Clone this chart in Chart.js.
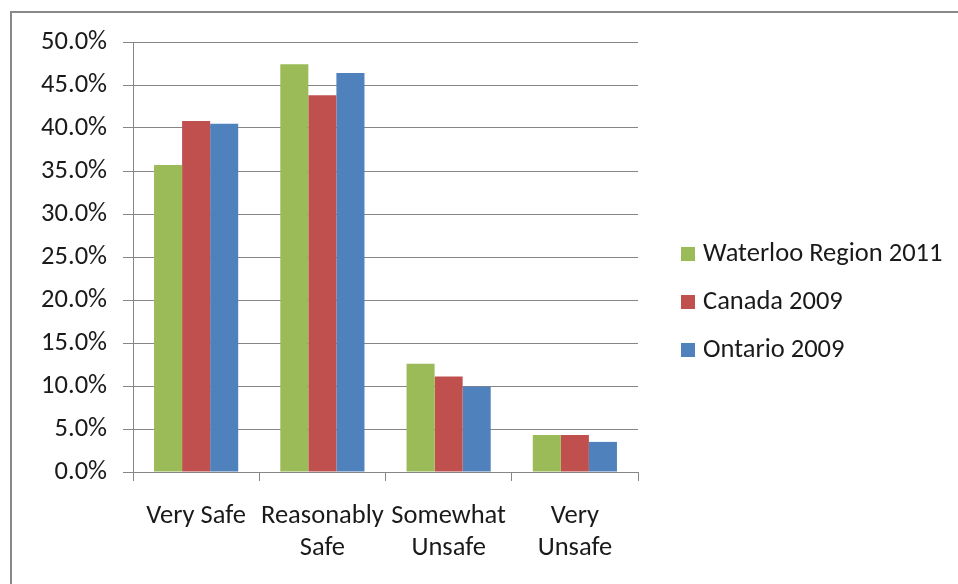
<!DOCTYPE html>
<html>
<head>
<meta charset="utf-8">
<script src="https://cdn.jsdelivr.net/npm/chart.js@4.4.1/dist/chart.umd.min.js"></script>
<style>
  html, body { margin: 0; padding: 0; background: #fff; }
  #wrap { width: 958px; height: 584px; position: relative; }
</style>
</head>
<body>
<div id="wrap"><canvas id="safetyChart" width="958" height="584"></canvas></div>
<script>
// Perceived safety walking alone after dark, share of respondents (%)
const categories = ['Very Safe', ['Reasonably', 'Safe'], ['Somewhat', 'Unsafe'], ['Very', 'Unsafe']];
const seriesNames = ['Waterloo Region 2011', 'Canada 2009', 'Ontario 2009'];
const waterloo2011 = [35.7, 47.4, 12.6, 4.3];
const canada2009 = [40.8, 43.8, 11.1, 4.3];
const ontario2009 = [40.5, 46.4, 9.9, 3.5];
const yTicks = { min: 0, max: 50, step: 5 };

const colors = ['#9bbb59', '#c0504d', '#4f81bd'];
const FONT = "Carlito, 'Liberation Sans', sans-serif";
const FONT_SIZE = 26.5;
const TEXT = '#1a1a1a';
const GRID = '#868686';

// frame around the chart (left and top edges show)
const framePlugin = {
  id: 'frame',
  beforeDraw(chart) {
    const ctx = chart.ctx;
    ctx.save();
    ctx.fillStyle = '#fff';
    ctx.fillRect(0, 0, chart.width, chart.height);
    ctx.strokeStyle = '#888';
    ctx.lineWidth = 2;
    ctx.beginPath();
    ctx.moveTo(11, chart.height);
    ctx.lineTo(11, 12);
    ctx.lineTo(chart.width, 12);
    ctx.stroke();
    ctx.restore();
  }
};

// legend to the right of the plot, built from the datasets
const sideLegend = {
  id: 'sideLegend',
  afterDraw(chart) {
    const ctx = chart.ctx;
    ctx.save();
    ctx.font = FONT_SIZE + 'px ' + FONT;
    ctx.textBaseline = 'middle';
    chart.data.datasets.forEach((ds, i) => {
      const y = 254 + i * 48;
      ctx.fillStyle = ds.backgroundColor;
      ctx.fillRect(681, y - 7, 14, 14);
      ctx.fillStyle = TEXT;
      ctx.fillText(ds.label, 703, y);
    });
    ctx.restore();
  }
};

new Chart(document.getElementById('safetyChart'), {
  type: 'bar',
  data: {
    labels: categories,
    datasets: [
      { label: seriesNames[0], data: waterloo2011, backgroundColor: colors[0] },
      { label: seriesNames[1], data: canada2009, backgroundColor: colors[1] },
      { label: seriesNames[2], data: ontario2009, backgroundColor: colors[2] }
    ]
  },
  options: {
    responsive: false,
    animation: false,
    layout: { padding: { left: 0, top: 42, right: 320, bottom: 0 } },
    datasets: { bar: { categoryPercentage: 3 / 4.5, barPercentage: 1 } },
    plugins: { legend: { display: false }, tooltip: { enabled: false } },
    scales: {
      x: {
        grid: { offset: true, drawOnChartArea: false, drawTicks: true, tickLength: 9, color: GRID, tickColor: GRID },
        border: { color: GRID, width: 1 },
        ticks: { color: TEXT, font: { family: FONT, size: FONT_SIZE, lineHeight: 1.18 }, padding: 20, maxRotation: 0, autoSkip: false },
        afterFit(scale) { scale.height = 584 - 472; }
      },
      y: {
        min: yTicks.min,
        max: yTicks.max,
        ticks: {
          stepSize: yTicks.step,
          color: TEXT,
          font: { family: FONT, size: FONT_SIZE },
          padding: 16,
          callback: v => v.toFixed(1) + '%'
        },
        grid: { color: GRID, tickColor: GRID, tickLength: 10, lineWidth: 1 },
        border: { color: GRID, width: 1 },
        afterFit(scale) { scale.width = 133; }
      }
    }
  },
  plugins: [framePlugin, sideLegend]
});
</script>
</body>
</html>
